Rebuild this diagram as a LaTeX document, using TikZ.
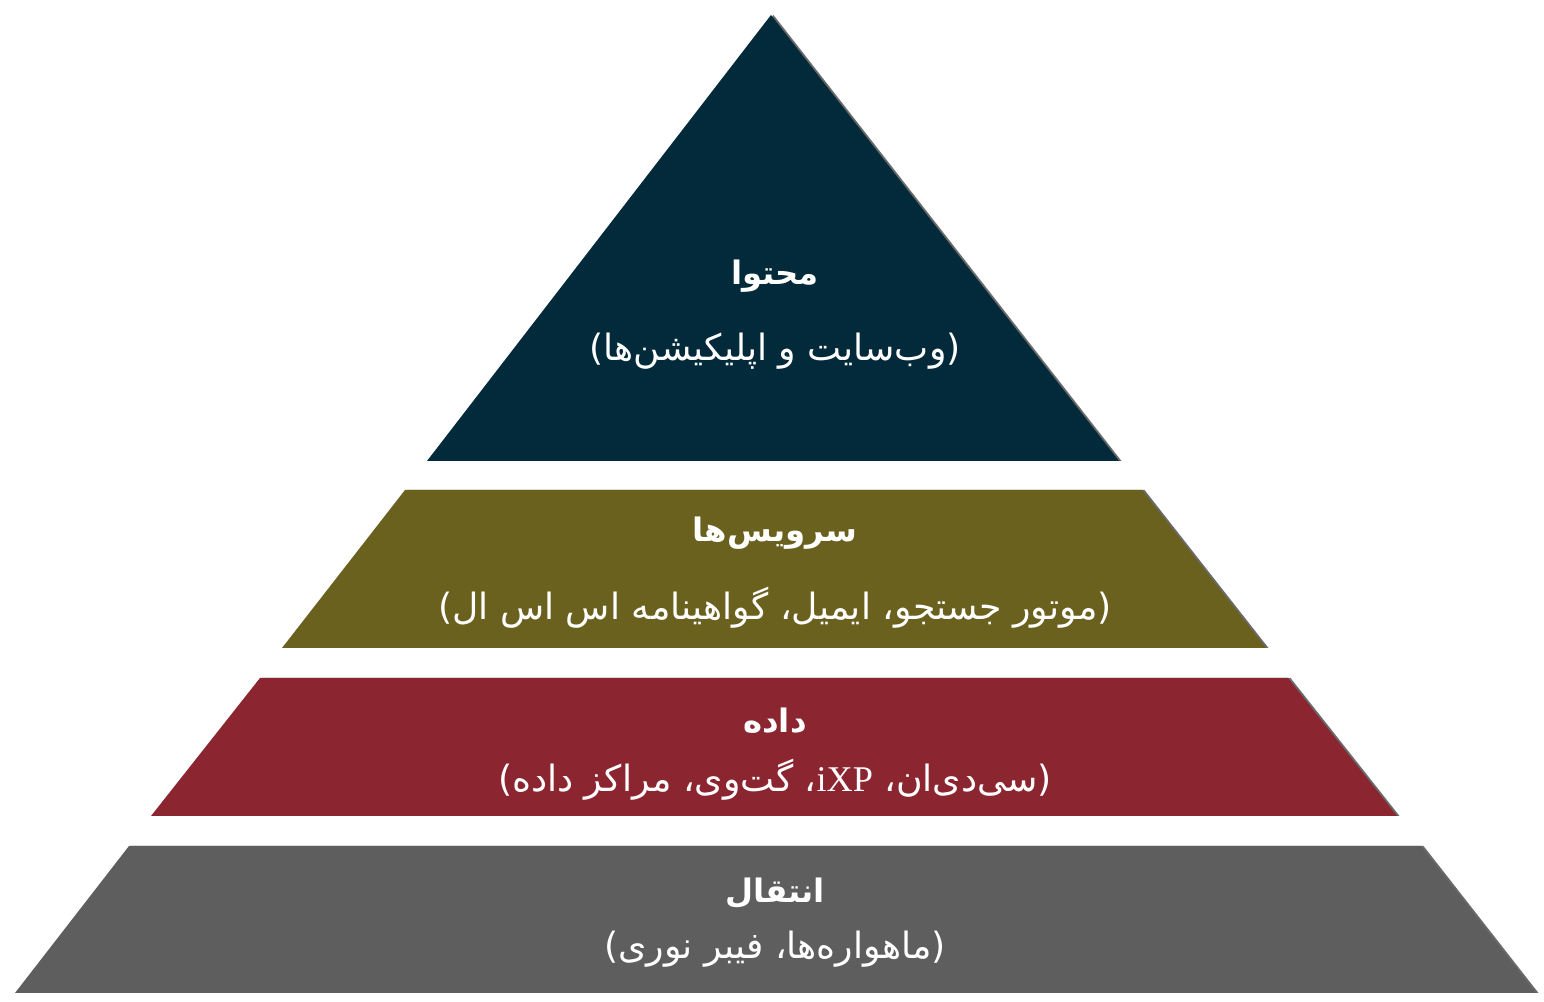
\documentclass[tikz,border=0pt]{standalone}
\usepackage{fontspec}
\newfontfamily\arabicfont[Script=Arabic]{DejaVu Sans}
\newfontfamily\latinfont{Liberation Serif}
\TeXXeTstate=1

\definecolor{contentblue}{HTML}{022A3A}
\definecolor{serviceolive}{HTML}{6A611F}
\definecolor{datared}{HTML}{8B2630}
\definecolor{transgray}{HTML}{5E5E5E}
\definecolor{edgegray}{HTML}{6A6A6A}

\tikzset{
    layershadow/.style={fill=edgegray, transform canvas={xshift=0.025cm}},
    title/.style={text=white, font=\arabicfont\bfseries\fontsize{9.2}{11}\selectfont},
    subtitle/.style={text=white, font=\arabicfont\fontsize{10.3}{12}\selectfont},
}

\begin{document}
\begin{tikzpicture}
    \useasboundingbox (0,0) rectangle (15.44,10.02);

    % Layer corners
    \coordinate (apex) at (7.71,9.87);
    \coordinate (contentL) at (4.27,5.41);
    \coordinate (contentR) at (11.19,5.41);

    \coordinate (serviceTL) at (4.05,5.12);
    \coordinate (serviceTR) at (11.42,5.12);
    \coordinate (serviceBR) at (12.66,3.54);
    \coordinate (serviceBL) at (2.82,3.54);

    \coordinate (dataTL) at (2.60,3.24);
    \coordinate (dataTR) at (12.88,3.24);
    \coordinate (dataBR) at (13.97,1.86);
    \coordinate (dataBL) at (1.51,1.86);

    \coordinate (transTL) at (1.29,1.56);
    \coordinate (transTR) at (14.21,1.56);
    \coordinate (transBR) at (15.36,0.09);
    \coordinate (transBL) at (0.15,0.09);

    % Shadows on the right edges
    \fill[layershadow] (apex) -- (contentR) -- (contentL) -- cycle;
    \fill[layershadow] (serviceTL) -- (serviceTR) -- (serviceBR) -- (serviceBL) -- cycle;
    \fill[layershadow] (dataTL) -- (dataTR) -- (dataBR) -- (dataBL) -- cycle;
    \fill[layershadow] (transTL) -- (transTR) -- (transBR) -- (transBL) -- cycle;

    % Layers
    \fill[contentblue] (apex) -- (contentR) -- (contentL) -- cycle;
    \fill[serviceolive] (serviceTL) -- (serviceTR) -- (serviceBR) -- (serviceBL) -- cycle;
    \fill[datared] (dataTL) -- (dataTR) -- (dataBR) -- (dataBL) -- cycle;
    \fill[transgray] (transTL) -- (transTR) -- (transBR) -- (transBL) -- cycle;

    % Labels
    \node[title] (contenttitle) at (7.75,7.26) {\beginR محتوا\endR};
    \node[subtitle] (contentsub) at (7.75,6.51) {\beginR (وب‌سایت و اپلیکیشن‌ها)\endR};

    \node[title] (servicetitle) at (7.75,4.69) {\beginR سرویس‌ها\endR};
    \node[subtitle] (servicesub) at (7.75,3.94) {\beginR (موتور جستجو، ایمیل، گواهینامه اس اس ال)\endR};

    \node[title] (datatitle) at (7.75,2.81) {\beginR داده\endR};
    \node[subtitle] (datasub) at (7.75,2.22) {\beginR (سی‌دی‌ان، \beginL{\latinfont iXP}\endL، گت‌وی، مراکز داده)\endR};

    \node[title] (transtitle) at (7.75,1.09) {\beginR انتقال\endR};
    \node[subtitle] (transsub) at (7.75,0.53) {\beginR (ماهواره‌ها، فیبر نوری)\endR};

\end{tikzpicture}
\end{document}
